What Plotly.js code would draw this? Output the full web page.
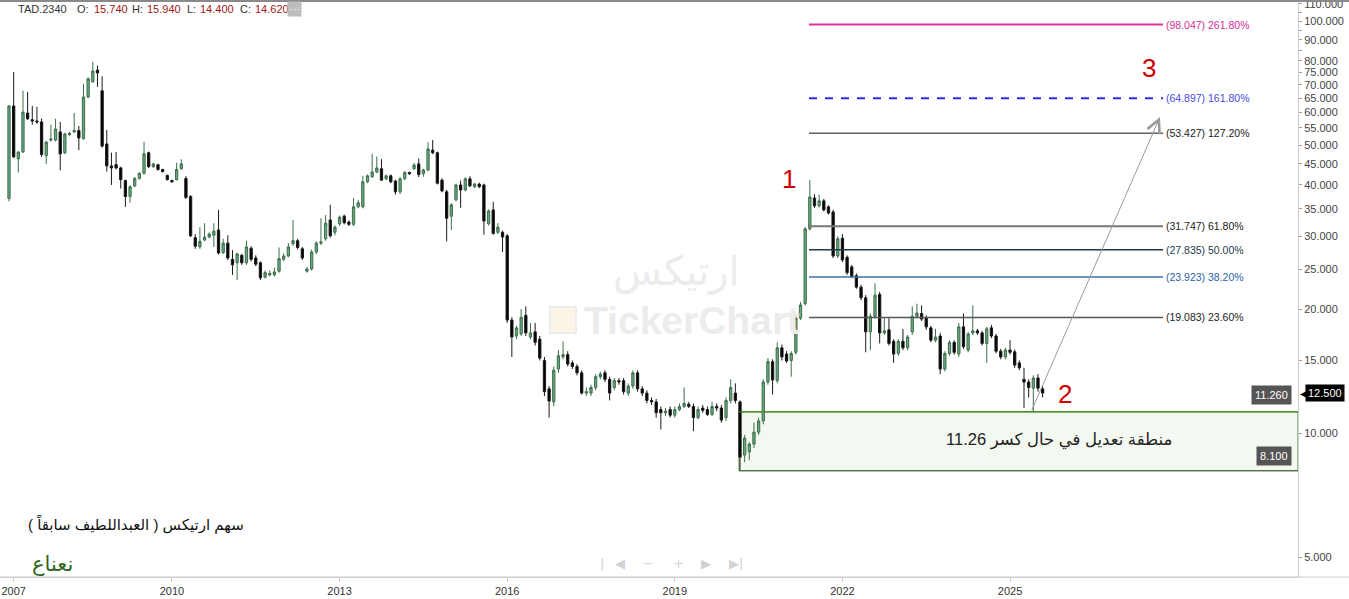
<!DOCTYPE html>
<html><head><meta charset="utf-8">
<script src="https://cdn.plot.ly/plotly-3.0.1.min.js"></script>
<style>html,body{margin:0;padding:0;background:#fff;overflow:hidden}#chart{width:1349px;height:599px}</style>
</head><body><div id="chart"></div>
<script>
// ---- monthly OHLC (TAD.2340) ----
const open = [
37.1,62.2,46.3,48.1,59.8,57.6,57.2,56.9,47.1,51.4,
51.4,53.8,47.9,53.0,53.8,54.2,51.8,65.4,71.2,76.0,
67.7,50.3,44.5,44.8,44.0,41.0,37.5,39.8,41.5,42.7,
47.9,44.3,44.8,43.6,42.2,41.0,41.2,43.8,41.5,37.5,
29.8,28.3,29.4,29.9,30.2,31.1,27.4,28.9,26.4,25.9,
27.0,25.9,28.1,26.6,25.9,23.9,24.2,24.2,24.7,26.4,
26.9,28.8,29.3,28.0,24.7,25.0,27.5,28.9,29.6,32.9,
30.7,32.2,33.6,32.5,32.1,35.4,35.4,40.7,41.9,43.0,
43.8,41.4,42.1,40.9,38.5,41.4,42.9,43.8,45.0,42.6,
43.5,48.6,47.9,41.1,38.5,33.6,36.8,40.0,38.9,41.4,
39.6,40.2,40.0,32.2,34.8,30.7,30.7,30.1,18.8,17.2,
17.4,19.3,17.1,17.6,16.9,15.0,12.8,11.9,14.3,15.3,
15.5,14.8,14.5,14.0,12.5,12.5,12.9,13.7,14.0,13.5,
12.9,13.4,13.4,12.5,13.0,14.0,12.8,12.5,12.0,11.9,
11.4,11.2,11.4,11.05,11.4,11.6,11.75,11.6,10.9,11.5,
11.4,11.1,11.6,11.5,10.9,12.0,12.5,11.9,8.84,9.0,
9.4,10.05,10.7,13.3,14.9,13.4,16.1,15.55,15.0,15.7,
19.0,20.6,31.3,37.2,35.6,36.6,35.4,34.4,26.9,29.7,
26.7,25.3,24.1,22.6,21.3,17.6,19.2,21.7,17.5,17.8,
16.7,15.6,16.7,16.1,17.6,19.2,19.5,19.0,18.0,16.8,
17.2,14.3,15.6,16.6,15.55,18.1,15.9,17.5,17.7,17.5,
16.5,18.0,17.2,15.8,15.3,15.9,15.74,14.8,13.5,13.3,
12.85,13.6,12.8];
const high = [
62.5,75.2,48.3,67.7,67.3,62.2,61.9,58.0,51.2,56.0,
57.9,56.9,53.5,53.8,59.8,55.6,70.4,73.0,79.6,78.0,
73.4,54.4,47.9,48.1,44.3,41.2,39.9,41.8,42.9,50.9,
48.2,45.3,45.0,43.8,42.4,41.2,45.3,46.2,42.0,37.8,
30.4,31.6,32.3,30.7,32.3,34.8,29.6,30.2,27.8,27.4,
27.2,29.3,28.4,27.0,26.1,24.8,24.8,25.2,28.2,27.3,
28.9,32.9,29.6,28.3,25.3,27.9,29.2,33.2,33.8,35.8,
31.9,33.7,33.9,32.8,37.2,36.8,42.1,42.4,47.6,46.9,
46.2,42.4,42.4,41.2,41.8,43.2,43.1,45.3,46.4,43.8,
50.8,51.4,48.2,41.5,38.9,36.1,40.3,41.0,41.8,42.0,
40.5,40.5,40.3,34.9,36.4,32.3,31.0,30.4,19.1,18.2,
20.0,20.3,18.5,18.5,17.2,15.3,13.0,14.5,15.9,16.7,
15.8,15.0,14.7,14.2,12.9,13.1,13.9,14.1,14.2,13.7,
13.6,13.6,13.6,13.2,14.2,14.2,13.0,12.7,12.2,12.1,
11.6,11.5,11.6,11.6,11.8,12.9,11.9,11.8,11.6,11.7,
11.6,11.9,11.8,11.7,12.2,13.5,13.2,12.0,9.9,9.5,
10.6,10.9,13.5,15.2,15.1,16.6,16.4,15.8,15.8,19.3,
20.8,31.6,41.1,38.0,37.9,37.0,35.7,34.8,30.0,30.4,
27.0,25.6,24.4,22.9,21.6,19.5,23.1,22.0,19.0,19.0,
16.9,16.9,17.9,17.3,20.3,20.6,20.4,19.3,18.2,17.9,
17.5,15.8,16.8,16.8,18.5,19.5,17.6,20.4,17.9,17.7,
18.1,18.3,17.4,16.0,16.1,16.8,15.94,15.0,14.4,13.5,
13.8,13.9,13.0];
const low = [
36.5,46.5,42.9,47.8,57.5,56.0,56.3,46.8,45.0,51.0,
51.0,43.4,47.5,52.5,53.5,48.6,51.5,65.0,70.8,69.2,
49.3,43.1,40.0,43.6,39.2,35.4,36.2,39.5,41.2,42.4,
44.0,44.0,43.3,42.9,41.0,40.5,41.0,43.5,37.0,29.9,
28.0,28.0,29.2,29.7,28.3,27.1,27.2,26.3,24.2,23.5,
25.6,25.6,26.1,25.4,23.5,23.7,24.0,24.0,24.5,26.1,
26.7,28.5,27.9,26.3,24.5,24.8,27.2,28.6,29.3,29.8,
30.2,31.8,32.1,31.8,31.8,35.1,35.1,40.4,41.6,42.7,
40.9,41.1,40.4,37.9,38.0,41.1,42.3,43.5,41.8,41.9,
43.2,47.5,40.1,38.4,29.2,31.1,36.5,35.2,38.6,39.5,
39.3,39.3,30.3,31.9,30.3,30.4,27.5,18.5,15.3,16.9,
17.2,17.2,16.9,16.3,15.0,12.3,10.9,11.6,14.0,15.1,
14.5,14.3,13.8,12.4,12.3,12.3,12.7,13.5,13.3,12.0,
12.7,13.1,12.4,12.3,12.8,12.6,12.3,11.8,11.7,10.9,
10.2,11.0,10.9,10.9,11.3,11.5,11.5,10.1,10.8,11.2,
11.0,11.0,11.3,10.6,10.7,11.8,11.8,8.1,8.5,8.6,
9.2,9.9,10.5,13.1,12.4,13.2,15.0,14.8,13.7,15.5,
18.8,20.4,31.0,35.2,35.3,34.5,33.9,26.6,26.6,26.0,
24.2,23.8,22.4,21.0,15.7,15.9,19.0,16.5,17.3,16.3,
14.8,15.4,15.9,15.9,17.3,19.0,18.7,17.8,16.6,16.6,
13.9,14.1,15.4,15.5,15.3,16.0,15.7,17.3,17.3,16.3,
14.8,17.0,15.6,15.1,15.1,15.5,14.40,14.2,11.5,12.2,
11.26,12.6,12.2];
const close = [
62.2,46.8,48.1,60.1,57.9,57.2,56.9,47.4,50.8,51.7,
54.7,47.6,53.2,53.4,54.2,52.0,65.4,72.4,75.6,74.8,
49.7,44.5,44.0,44.0,41.2,37.5,39.6,41.5,42.7,47.6,
44.3,45.0,43.6,43.1,41.2,40.7,43.6,45.0,37.3,30.1,
28.4,29.2,29.9,30.4,30.9,27.35,28.9,26.6,25.6,27.2,
25.9,28.3,26.4,25.7,23.8,24.5,24.4,24.6,26.5,26.9,
28.3,29.3,28.2,26.6,25.0,27.5,28.9,29.1,32.3,30.1,
31.6,33.4,32.4,32.1,35.4,36.2,40.7,42.1,43.0,44.0,
41.1,42.1,40.7,38.5,41.4,42.9,42.6,44.7,42.4,43.5,
48.9,47.9,40.4,38.7,33.2,35.8,40.0,38.9,41.4,39.8,
40.2,39.6,32.7,34.6,30.5,31.6,29.9,18.8,17.1,18.0,
19.1,17.5,17.5,16.6,15.2,12.6,11.96,14.2,15.4,15.5,
14.7,14.5,14.0,12.5,12.6,12.9,13.7,13.9,13.5,12.5,
13.4,13.3,12.6,13.0,14.0,12.8,12.5,12.0,11.9,11.2,
11.2,11.3,11.05,11.4,11.6,11.8,11.6,10.9,11.4,11.35,
11.1,11.6,11.5,10.75,12.0,12.9,12.0,8.74,9.72,9.4,
10.05,10.7,13.3,14.9,13.45,16.1,15.3,14.95,15.6,19.0,
20.45,31.3,37.4,35.6,36.6,34.8,34.2,26.9,29.6,26.3,
24.5,24.0,22.6,21.3,17.6,19.2,21.6,17.5,17.7,16.5,
15.55,16.7,16.1,17.1,19.2,19.55,18.9,18.1,16.8,17.1,
14.3,15.6,16.6,15.7,18.1,16.2,17.4,17.7,17.5,16.5,
17.9,17.2,15.8,15.3,15.9,15.7,14.62,14.4,13.3,12.9,
13.6,12.85,12.5];

const yearTickBars = [1, 35, 71, 107, 143, 179, 215];
const yearLabels = ['2007','2010','2013','2016','2019','2022','2025'];
const priceTicks = [5,10,15,20,25,30,35,40,45,50,55,60,65,70,75,80,85,90,95,100,105,110];
const priceTickLabels = priceTicks.map(v => (v === 85 || v === 95 || v === 105) ? '' : v.toFixed(3));

const fibLevels   = [98.047, 64.897, 53.427, 31.747, 27.835, 23.923, 19.083];
const fibPercents = ['261.80%','161.80%','127.20%','61.80%','50.00%','38.20%','23.60%'];
const zoneTop = 11.26, zoneBottom = 8.1, lastPrice = 12.5;
const targetPrice = 58.5;
const header = {symbol:'TAD.2340', O:'15.740', H:'15.940', L:'14.400', C:'14.620'};

// ---- geometry helpers ----
const W = 1349, H = 599, ML = 0, MR = 51, MT = 2, MB = 22;
const PW = W - ML - MR, PH = H - MT - MB;
const xp = px => (px - ML) / PW;
const yp = py => 1 - (py - MT) / PH;
const firstBarPx = 9, barPx = 4.656;
const pxToBar = px => (px - firstBarPx) / barPx;
const xRange = [pxToBar(0), pxToBar(PW)];
const yRange = [Math.log10(4.473), Math.log10(111.2)];
const barIndex = open.map((_, i) => i);
const FONT = 'Arial, "Liberation Sans", "DejaVu Sans", sans-serif';

const fibLine = [
  {color:'#e0309c', width:2, dash:'solid', text:'#d6309a'},
  {color:'#3030e0', width:2, dash:'8px,8px', text:'#4a4ae0'},
  {color:'#111111', width:1, dash:'solid', text:'#222222'},
  {color:'#777777', width:2, dash:'solid', text:'#222222'},
  {color:'#1d3b4b', width:1.5, dash:'solid', text:'#1d3b4b'},
  {color:'#3c70b0', width:1.5, dash:'solid', text:'#2b62a8'},
  {color:'#555555', width:1.5, dash:'solid', text:'#222222'}
];
const fibStart = pxToBar(809), fibEnd = pxToBar(1163);

const shapes = [];
const annotations = [];
// paper-positioned text helper (explicit anchors, no 'auto')
const note = (text, px, py, size, color, extra) => annotations.push(Object.assign({
  xref:'paper', yref:'paper', x:xp(px), y:yp(py), xanchor:'center', yanchor:'middle',
  text:text, showarrow:false, font:{family:FONT, size:size, color:color}}, extra || {}));

// zone
const zoneStart = pxToBar(739);
shapes.push({type:'rect', xref:'x', yref:'y', x0:zoneStart, x1:xRange[1], y0:zoneBottom, y1:zoneTop,
  fillcolor:'#f3f8f0', line:{color:'#4a8a2c', width:1}, layer:'below'});
shapes.push({type:'line', xref:'x', yref:'y', x0:zoneStart, x1:xRange[1], y0:zoneBottom, y1:zoneBottom,
  line:{color:'#4e5e4e', width:1.2}});
shapes.push({type:'line', xref:'x', yref:'y', x0:zoneStart, x1:xRange[1], y0:zoneTop, y1:zoneTop,
  line:{color:'#3f8a22', width:1.2}});

// fib lines
fibLevels.forEach((lv, i) => {
  const s = fibLine[i];
  shapes.push({type:'line', xref:'x', yref:'y', x0:fibStart, x1:fibEnd, y0:lv, y1:lv,
    line:{color:s.color, width:s.width, dash:s.dash}});
  annotations.push({xref:'x', yref:'y', x:fibEnd + 0.3, y:Math.log10(lv), xanchor:'left', yanchor:'middle',
    text:'(' + lv.toFixed(3) + ') ' + fibPercents[i], showarrow:false,
    font:{family:FONT, size:10.5, color:s.text}});
});

// top border and extended bottom axis line
shapes.push({type:'line', xref:'paper', yref:'paper', x0:0, x1:W/PW, y0:yp(1), y1:yp(1), line:{color:'#8a8a8a', width:2}});
shapes.push({type:'line', xref:'paper', yref:'paper', x0:0, x1:W/PW, y0:0, y1:0, line:{color:'#cccccc', width:1}});

// watermark logo box
shapes.push({type:'rect', xref:'paper', yref:'paper', x0:xp(550), x1:xp(576), y0:yp(333), y1:yp(307),
  fillcolor:'#faf5e6', line:{color:'#ececec', width:2}, layer:'below'});

// arrow toward target
annotations.push({xref:'x', yref:'y', axref:'x', ayref:'y',
  x:pxToBar(1160), y:Math.log10(targetPrice), ax:pxToBar(1031), ay:Math.log10(zoneTop),
  showarrow:true, arrowhead:5, arrowsize:2.6, arrowwidth:1, arrowcolor:'#9a9a9a', text:''});

// header
const hdr = [
  [header.symbol, 16, '#333333'], ['O:', 75, '#333333'], [header.O, 92, '#a01818'],
  ['H:', 130, '#333333'], [header.H, 145, '#a01818'], ['L:', 185, '#333333'],
  [header.L, 198, '#a01818'], ['C:', 238, '#333333'], [header.C, 253, '#a01818']
];
hdr.forEach(h => note(h[0], h[1], 9, 11, h[2], {xanchor:'left'}));
note('···', 294, 9, 11, '#ffffff', {bgcolor:'#bdbdbd', borderpad:1});

// watermark
note('ارتيكس', 676, 272, 40, '#ececec');
note('<b>TickerChart</b>', 692, 320, 39, '#ececec');

// wave numbers
[['1', 789, 179], ['2', 1065, 394], ['3', 1149, 68]].forEach(n => note(n[0], n[1], n[2], 26, '#d00000'));

// zone text
note('\u202Bمنطقة تعديل في حال كسر 11.26\u202C', 1059, 440, 16.5, '#222222');

// level boxes
note(zoneTop.toFixed(3), 1271, 395, 11, '#ffffff', {bgcolor:'#555555', borderpad:3});
note(zoneBottom.toFixed(3), 1274, 456, 11, '#ffffff', {bgcolor:'#555555', borderpad:3});
annotations.push({xref:'paper', yref:'y', x:xp(1305), y:Math.log10(lastPrice), xanchor:'left', yanchor:'middle',
  text:lastPrice.toFixed(3), showarrow:false, bgcolor:'#000000', borderpad:2, font:{family:FONT, size:11, color:'#ffffff'}});
annotations.push({xref:'paper', yref:'y', x:xp(1298), y:Math.log10(lastPrice), xanchor:'left', yanchor:'middle',
  text:'◀', showarrow:false, font:{family:'"DejaVu Sans", sans-serif', size:10, color:'#000000'}});

// titles bottom left
note('\u202Bسهم ارتيكس ( العبداللطيف سابقاً )\u202C', 136, 524, 15, '#111111');
note('نعناع', 53, 564, 21, '#2f6a1e');

// navigation glyphs
[['|', 602], ['◀', 620], ['−', 648], ['+', 678], ['▶', 706], ['▶|', 736]].forEach(g =>
  note(g[0], g[1], 563, 13, '#d2d2d2', {font:{family:'"DejaVu Sans", sans-serif', size:13, color:'#d2d2d2'}}));

const trace = {
  type:'candlestick', x:barIndex, open:open, high:high, low:low, close:close,
  increasing:{line:{color:'#3d6e4c', width:1}, fillcolor:'#68a880'},
  decreasing:{line:{color:'#1a1a1a', width:1}, fillcolor:'#000000'},
  whiskerwidth:0, hoverinfo:'skip', showlegend:false
};

const layout = {
  width:W, height:H, margin:{l:ML, r:MR, t:MT, b:MB, pad:0},
  paper_bgcolor:'#ffffff', plot_bgcolor:'#ffffff', showlegend:false,
  font:{family:FONT, size:11, color:'#333333'},
  xaxis:{type:'linear', range:xRange, rangeslider:{visible:false}, showgrid:false, zeroline:false,
    tickmode:'array', tickvals:yearTickBars, ticktext:yearLabels, ticks:'outside', ticklen:4, tickcolor:'#cccccc',
    showline:true, linecolor:'#cccccc', linewidth:1, tickfont:{family:FONT, size:11, color:'#333333'}, fixedrange:true},
  yaxis:{type:'log', range:yRange, side:'right', showgrid:false, zeroline:false, ticklabeloverflow:'allow',
    tickmode:'array', tickvals:priceTicks, ticktext:priceTickLabels, ticks:'outside', ticklen:3, tickcolor:'#999999',
    showline:true, linecolor:'#cccccc', linewidth:1, tickfont:{family:FONT, size:11, color:'#444444'}, fixedrange:true},
  shapes:shapes, annotations:annotations
};

Plotly.newPlot('chart', [trace], layout, {displayModeBar:false, staticPlot:true});
</script>
</body></html>
